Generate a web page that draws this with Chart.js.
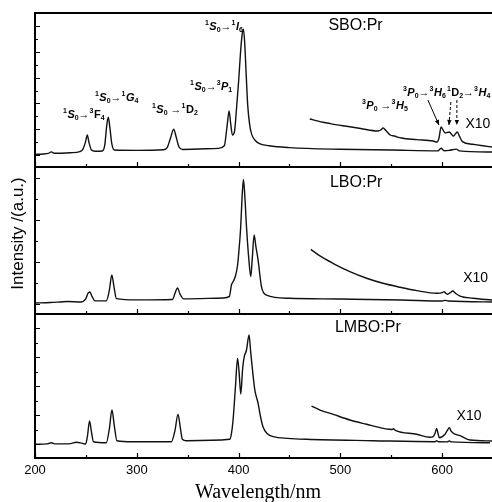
<!DOCTYPE html>
<html><head><meta charset="utf-8">
<script src="https://cdn.jsdelivr.net/npm/chart.js@4.4.1/dist/chart.umd.min.js"></script>
<style>html,body{margin:0;padding:0;background:#fff;overflow:hidden;width:492px;height:502px}
#wrap{position:absolute;left:0;top:0;width:494px;height:502px}</style>
</head><body><div id="wrap"><canvas id="c" width="494" height="502" style="width:494px;height:502px"></canvas></div>
<script>
// ---------- data (wavelength nm, intensity a.u. per panel) ----------
const sboWl  = [200,208,213,216,219,235,244,247,249.5,251.4,253,255.5,259,266,268.5,270.5,272,273.5,275.5,278,300,326,330,333,336.3,338.5,341.5,345,380,386,388.8,390.7,392.3,394,396,398,400,402,403.5,404.8,406,407.5,409,411,413,416,420,430,450,500,550,596,599,602,607,614,617,650];
const sboInt = [8.2,8.4,8.8,9.8,8.9,9.3,10.0,11.5,16,20.8,16,11,10.2,10.4,14,27,32.3,26,15,11,10.8,11.2,12.8,18.5,24.5,20,13,11.4,12.1,13.8,27,36.4,28,20.8,23,38,55,75,86,89.4,81,60,40,27,21,17.5,15.3,13.8,12.6,11.5,11,10.5,12.2,10.6,10.8,11.6,10.5,9.7];
const sboX10Wl  = [470,480,490,504.5,520,537,540,542,545,549,553,560,575,591,595,597,599,601,603,605,607,609,611,613,615,617,620,630,640,649];
const sboX10Int = [31.2,29.5,28.2,26.6,25,23.4,24.2,25.3,23.5,20.8,20.1,18.8,17.8,16.9,16.2,19,26,24,22.1,22.4,22.7,21.5,20.1,21.5,22.7,20,16.5,14.8,13.8,13];

const lboWl  = [200,215,225,232,245,250,252,254,256,259,270,273,275.5,277.5,280,300,335,338,340,342.5,346,385,391,393,395,397,399,400,402,403.5,404.8,406,407.8,410,412,413.5,415.3,417,419.2,422.5,427.4,450,500,560,600,603,606,650];
const lboInt = [7.5,7.8,8.2,8.5,8.2,10.5,14,15,12,8.9,8.9,16,26.5,19,10.5,9.6,9.9,15,17.7,13.5,10.3,10.9,12,19.7,22.4,26,33,40,58,80,91.6,82,59.4,38,25.4,38,53.7,46,36.7,18.6,12.9,10.7,10.2,9.5,8.8,9.3,8.8,8.2];
const lboX10Wl  = [471,480,492.7,509.4,525.8,541.9,558.6,575,594.7,600,601.9,603.5,605.5,608,610.4,613,617.6,630.4,649];
const lboX10Int = [44,39.5,34.5,28.8,24.3,20.9,18.2,15.9,14.1,14.5,15.2,14.2,13.4,14.5,15.6,14.2,12.2,10.7,9.5];

const lmboWl  = [200,212,216,220,235,240.5,246,249.7,251.5,253.6,255.5,257.5,270,273,275.6,278,280.5,296,334,337.5,340.5,343,344.8,348.7,391.3,393,394.6,397,399,400.5,402.2,404,405.5,407.8,410.3,412,413.7,416,419.2,421.5,424,428,434,466.8,532.3,593,594.7,596.5,605,607,609,647];
const lmboInt = [9.5,9.8,10.6,9.8,10,10.9,10.3,9.7,15,25.7,18,11.3,10.6,20,33.3,22,12,11.3,11.3,19,30.3,20,13,12,13,17,26.4,50,69.2,60,44.4,62,70,75,85.4,73,61.1,47.2,38,29,21.7,17,14.8,13,12,11.3,12,11.3,11.2,11.8,11.2,10.6];
const lmboX10Wl  = [471.7,480,493,509.4,525.8,542.2,548,551,552,554,575,588,591.3,593,594.7,596,597.2,602.9,605,607.1,609,612.7,617.6,627.4,649];
const lmboX10Int = [36.1,33.3,30.3,26.4,23.4,20.6,20,19.8,20.3,19.2,16.5,14.4,14.8,17,20.6,17,14.1,16.5,19,21,18.5,16.5,15.5,12.5,11.8];

const xTickValues = [200,300,400,500,600];
const xMinorValues = [250,350,450,550,650];
const panelNames = ['SBO:Pr','LBO:Pr','LMBO:Pr'];
const scaleLabel = 'X10';
const xTitle = 'Wavelength/nm';
const yTitle = 'Intensity /(a.u.)';

// transition labels in top panel: parts [text, kind]
const transitionParts = [
  [['1','sup'],['S','I'],['0','sub'],['\u2192','B'],['3','sup'],['F','B'],['4','sub']],
  [['1','sup'],['S','I'],['0','sub'],['\u2192','B'],['1','sup'],['G','I'],['4','sub']],
  [['1','sup'],['S','I'],['0','sub'],[' \u2192','B'],['1','sup'],['D','B'],['2','sub']],
  [['1','sup'],['S','I'],['0','sub'],['\u2192','B'],['3','sup'],['P','I'],['1','sub']],
  [['1','sup'],['S','I'],['0','sub'],['\u2192','B'],['1','sup'],['I','I'],['6','sub']],
  [['3','sup'],['P','I'],['0','sub'],[' \u2192','B'],['3','sup'],['H','I'],['5','sub']],
  [['3','sup'],['P','I'],['0','sub'],['\u2192','B'],['3','sup'],['H','I'],['6','sub']],
  [['1','sup'],['D','B'],['2','sub'],['\u2192','B'],['3','sup'],['H','I'],['4','sub']]
];
const transitionWl = [227.5,258.9,314.9,352.3,367,521.2,561.5,604.7];
const transitionV  = [31.5,42.9,34.8,50,89,37.7,46.1,46.1];
// arrows (top panel): from (wl,v) to (wl,v)
const arrowFromWl = [586,608.6,614.5], arrowFromV = [43.5,42.2,43.5];
const arrowToWl   = [596.9,606.7,614.5], arrowToV   = [27.3,27.3,27.3];
const arrowDashed = [false,true,true];

const pts = (xs, ys) => xs.map((x,i)=>({x:x, y:ys[i]}));
function ds(xs, ys, axis){
  return {data: pts(xs,ys), yAxisID: axis, borderColor:'#111', borderWidth:1.4,
    pointRadius:0, fill:false, cubicInterpolationMode:'monotone', parsing:false};
}

const yTickStart=[7.8,6.8,9.5], yTickStep=[8.375,14.25,10.07], yTickCount=[11,7,9];
const panelAxes=['yTop','yMid','yBot'];
const labelWl=[488.3,489.8,494.7], labelV=[89,86.4,87.5];
const x10Wl=[622.9,620.7,614.2], x10V=[25.3,21.8,26.4];

const framePlugin = {
  id:'frame',
  afterDatasetsDraw(chart){
    const ctx=chart.ctx, a=chart.chartArea, xs=chart.scales.x;
    ctx.save();
    ctx.strokeStyle='#000'; ctx.lineWidth=2;
    // frame
    ctx.beginPath();
    ctx.moveTo(a.left,a.top); ctx.lineTo(a.right+2,a.top);
    ctx.moveTo(a.left,a.top-1); ctx.lineTo(a.left,a.bottom+1);
    panelAxes.forEach(id=>{const s=chart.scales[id]; ctx.moveTo(a.left-1,s.bottom); ctx.lineTo(a.right+2,s.bottom);});
    ctx.stroke();
    // ticks
    ctx.lineWidth=1.2;
    ctx.beginPath();
    panelAxes.forEach((id,p)=>{
      const s=chart.scales[id];
      xTickValues.forEach(v=>{const px=Math.round(xs.getPixelForValue(v))+0.5; ctx.moveTo(px,s.bottom); ctx.lineTo(px,s.bottom-5);});
      xMinorValues.forEach(v=>{const px=Math.round(xs.getPixelForValue(v))+0.5; ctx.moveTo(px,s.bottom); ctx.lineTo(px,s.bottom-3);});
      for(let i=0;i<yTickCount[p];i++){
        const py=Math.round(s.getPixelForValue(yTickStart[p]+i*yTickStep[p]))+0.5;
        ctx.moveTo(a.left,py); ctx.lineTo(a.left+(i%2===0?5:3),py);
      }
    });
    ctx.stroke();
    // panel labels
    ctx.fillStyle='#000'; ctx.textBaseline='alphabetic'; ctx.textAlign='left';
    panelAxes.forEach((id,p)=>{
      const s=chart.scales[id];
      ctx.font='16px "Liberation Sans", Arial, sans-serif';
      ctx.fillText(panelNames[p], xs.getPixelForValue(labelWl[p]), s.getPixelForValue(labelV[p]));
      ctx.font='14px "Liberation Sans", Arial, sans-serif';
      ctx.fillText(scaleLabel, xs.getPixelForValue(x10Wl[p]), s.getPixelForValue(x10V[p]));
    });
    // transitions
    const st=chart.scales.yTop;
    transitionParts.forEach((parts,k)=>{
      let cx=xs.getPixelForValue(transitionWl[k]); const by=st.getPixelForValue(transitionV[k]);
      parts.forEach(([t,kind])=>{
        let dy=0;
        if(kind==='sup'){ctx.font='bold 7px "Liberation Sans", Arial, sans-serif'; dy=-5;}
        else if(kind==='sub'){ctx.font='bold 7px "Liberation Sans", Arial, sans-serif'; dy=2;}
        else if(kind==='I'){ctx.font='italic bold 11px "Liberation Sans", Arial, sans-serif';}
        else {ctx.font='bold 11px "Liberation Sans", Arial, sans-serif';}
        ctx.fillText(t,cx,by+dy);
        cx+=ctx.measureText(t).width+(kind==='sup'?0.5:0);
      });
    });
    // arrows
    ctx.lineWidth=1;
    arrowFromWl.forEach((w,k)=>{
      const x0=xs.getPixelForValue(w), y0=st.getPixelForValue(arrowFromV[k]);
      const x1=xs.getPixelForValue(arrowToWl[k]), y1=st.getPixelForValue(arrowToV[k]);
      ctx.setLineDash(arrowDashed[k]?[3,2]:[]);
      ctx.beginPath(); ctx.moveTo(x0,y0); ctx.lineTo(x1,y1); ctx.stroke();
      ctx.setLineDash([]);
      const ang=Math.atan2(y1-y0,x1-x0), L=5, W=2.2;
      ctx.beginPath();
      ctx.moveTo(x1,y1);
      ctx.lineTo(x1-L*Math.cos(ang)+W*Math.sin(ang), y1-L*Math.sin(ang)-W*Math.cos(ang));
      ctx.lineTo(x1-L*Math.cos(ang)-W*Math.sin(ang), y1-L*Math.sin(ang)+W*Math.cos(ang));
      ctx.closePath(); ctx.fill();
    });
    // axis titles
    ctx.font='20px "Liberation Serif", "Times New Roman", serif';
    ctx.textAlign='center';
    ctx.fillText(xTitle, 258, 498);
    ctx.save();
    ctx.translate(23, 233.5); ctx.rotate(-Math.PI/2);
    ctx.font='17px "Liberation Sans", Arial, sans-serif';
    ctx.fillText(yTitle, 0, 0);
    ctx.restore();
    ctx.restore();
  }
};

new Chart(document.getElementById('c'), {
  type:'line',
  data:{datasets:[
    ds(sboWl,sboInt,'yTop'), ds(sboX10Wl,sboX10Int,'yTop'),
    ds(lboWl,lboInt,'yMid'), ds(lboX10Wl,lboX10Int,'yMid'),
    ds(lmboWl,lmboInt,'yBot'), ds(lmboX10Wl,lmboX10Int,'yBot')
  ]},
  options:{
    responsive:false, animation:false, devicePixelRatio:1, events:[],
    layout:{padding:{left:35,top:13,right:1,bottom:0}},
    plugins:{legend:{display:false}, tooltip:{enabled:false}},
    scales:{
      x:{type:'linear', min:200, max:650, position:'bottom',
         grid:{display:false, drawTicks:false}, border:{display:false},
         afterBuildTicks:s=>{s.ticks=xTickValues.map(v=>({value:v}));},
         afterFit:s=>{s.height=44;},
         ticks:{color:'#000', padding:5, maxRotation:0, font:{family:'"Liberation Sans", Arial, sans-serif', size:13}}},
      yTop:{type:'linear', display:false, min:0, max:100, position:'left', stack:'p', stackWeight:154, weight:3},
      yMid:{type:'linear', display:false, min:0, max:100, position:'left', stack:'p', stackWeight:147, weight:2},
      yBot:{type:'linear', display:false, min:0, max:100, position:'left', stack:'p', stackWeight:144, weight:1}
    }
  },
  plugins:[framePlugin]
});
</script></body></html>
